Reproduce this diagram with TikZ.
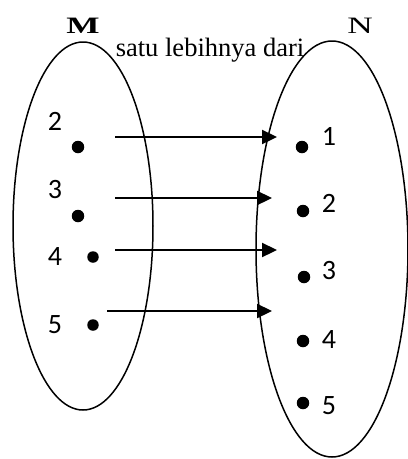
\documentclass[tikz,border=0pt]{standalone}
\usepackage{fontspec}
\setmainfont{Liberation Serif}
\newfontfamily\seriffont{Liberation Serif}
\newfontfamily\digitfont{Carlito}
\usetikzlibrary{arrows.meta}
\begin{document}
\begin{tikzpicture}[x=1pt, y=-1pt,
  dot/.style={circle, fill, inner sep=0pt, minimum size=12.5pt},
  num/.style={font=\digitfont\fontsize{28}{30}\selectfont, inner sep=0pt},
  arr/.style={line width=2.3pt, -{Triangle[length=15pt, width=14pt]}}]
\useasboundingbox (0,0) rectangle (408,459);
\draw[line width=1.5pt](83,226) ellipse [x radius=70, y radius=184];
\draw[line width=1.5pt](332,249) ellipse [x radius=76, y radius=208];
\node[font=\seriffont\fontsize{23.5}{26}\selectfont\bfseries, xscale=1.5, inner sep=0pt] (setM) at (83,26){M};
\node[font=\seriffont\fontsize{23.5}{26}\selectfont, xscale=1.5, inner sep=0pt] (setN) at (360,26){N};
\node[font=\seriffont\fontsize{26.5}{30}\selectfont, inner sep=0pt, anchor=base] (rel) at (210,56){satu lebihnya dari};

% anggota M
\node[num] (lm2) at (55,121){2};
\node[num] (lm3) at (55,190){3};
\node[num] (lm4) at (55,257){4};
\node[num] (lm5) at (55,325){5};
\node[dot] (m2) at (78,147){};
\node[dot] (m3) at (78,216){};
\node[dot, minimum size=11.5pt] (m4) at (93,257){};
\node[dot, minimum size=11.5pt] (m5) at (93,325){};

% anggota N
\node[num] (ln1) at (329,136){1};
\node[num] (ln2) at (329,203){2};
\node[num] (ln3) at (329,271){3};
\node[num] (ln4) at (329,340){4};
\node[num] (ln5) at (329,406){5};
\node[dot] (n1) at (302,147){};
\node[dot] (n2) at (303,211){};
\node[dot] (n3) at (304,277){};
\node[dot] (n4) at (303,341){};
\node[dot] (n5) at (303,403){};

% panah
\coordinate (a1) at (115,137); \coordinate (b1) at (277,137);
\coordinate (a2) at (115,198); \coordinate (b2) at (272,198);
\coordinate (a3) at (115,250); \coordinate (b3) at (277,250);
\coordinate (a4) at (107,311); \coordinate (b4) at (272,311);
\draw[arr](a1)--(b1);
\draw[arr](a2)--(b2);
\draw[arr](a3)--(b3);
\draw[arr](a4)--(b4);
\end{tikzpicture}
\end{document}
